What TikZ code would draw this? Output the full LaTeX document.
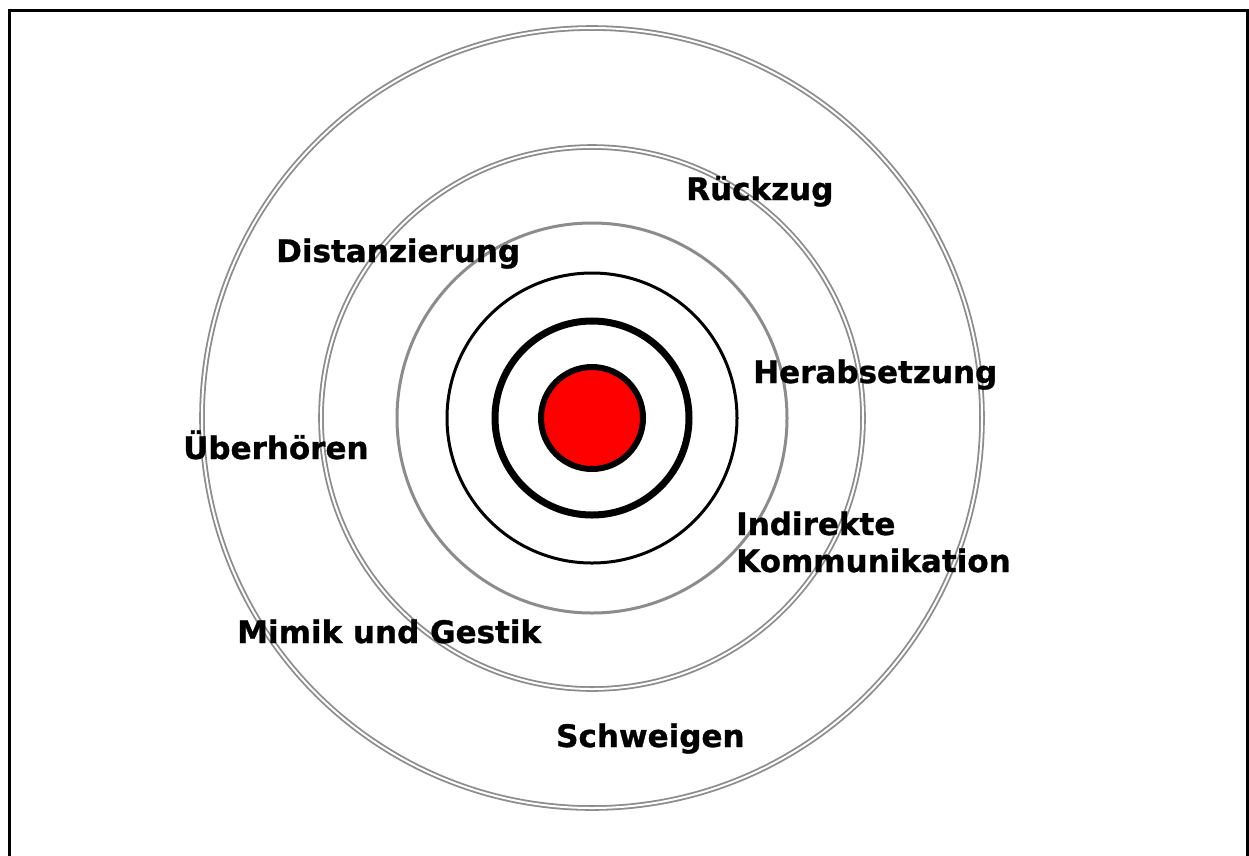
\documentclass[tikz,border=0pt]{standalone}
\usepackage{fontspec}
\setmainfont{DejaVu Sans}
\newfontfamily\lblface{DejaVu Sans Bold}[FakeBold=1]
\usepackage{tikz}
\newcommand{\lblfont}{\lblface\fontsize{31}{38}\selectfont}

\begin{document}
\begin{tikzpicture}[
    x=1pt, y=-1pt,
    ring/.style={draw=black!45, line width=3pt},
    dring/.style={draw=black!45, double=white, double distance=2pt, line width=1.8pt},
    blackring/.style={draw=black, line width=3pt},
    lbl/.style={anchor=base west, inner sep=0pt, font=\lblfont, align=left}
]

% Frame
\useasboundingbox (0,0) rectangle (1249,855);
\draw[line width=3pt] (9,860) -- (9,10) -- (1247,10) -- (1247,860);

% Rings
\coordinate (c) at (592,418);
\draw[dring] (c) circle[radius=390pt];
\draw[dring] (c) circle[radius=271pt];
\draw[ring] (c) circle[radius=195pt];
\draw[blackring] (c) circle[radius=145pt];
\draw[blackring, line width=7pt] (c) circle[radius=97pt];
\draw[blackring, line width=6pt, fill=red] (c) circle[radius=51pt];

% Labels
\node[lbl] (rueckzug) at (686,200) {Rückzug};
\node[lbl] (distanz) at (276,262) {Distanzierung};
\node[lbl] (herab) at (753,383) {Herabsetzung};
\node[lbl] (ueber) at (183,459) {Überhören};
\node[lbl] (indirekt) at (736,572) {Indirekte\\[-1pt]Kommunikation};
\node[lbl] (mimik) at (237,643) {Mimik und Gestik};
\node[lbl] (schweigen) at (556,747) {Schweigen};
\end{tikzpicture}
\end{document}
